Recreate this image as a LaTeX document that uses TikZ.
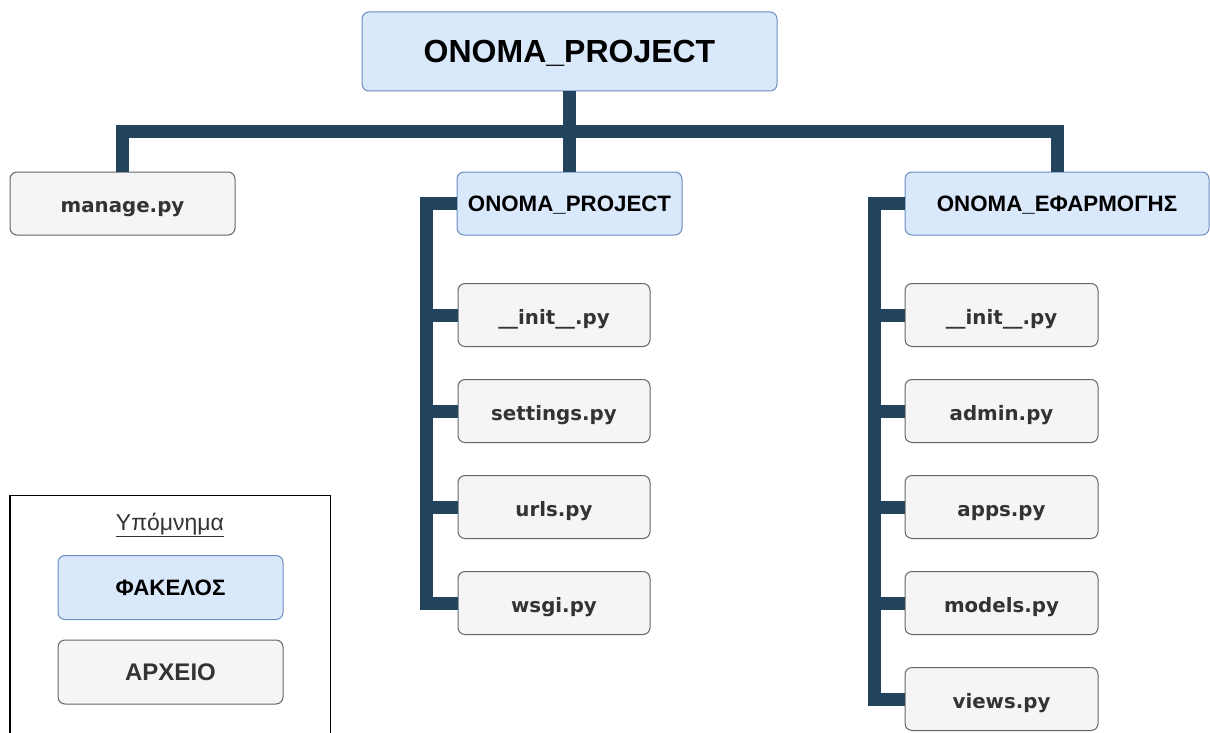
\documentclass[tikz,border=0pt]{standalone}
\usepackage{fontspec}
\setmainfont{Liberation Sans}
\newfontfamily\headfont{Liberation Sans}
\newfontfamily\filefont{DejaVu Sans}
\definecolor{folderfill}{HTML}{DAE8FC}
\definecolor{folderline}{HTML}{6C8EBF}
\definecolor{filefill}{HTML}{F5F5F5}
\definecolor{fileline}{HTML}{666666}
\definecolor{filetext}{HTML}{333333}
\definecolor{trunkcol}{HTML}{23445D}
\begin{document}
\begin{tikzpicture}[x=1pt,y=-1pt,
  folderbox/.style={draw=folderline, fill=folderfill, line width=1pt, rounded corners=7pt,
    inner sep=0pt, text height=16pt, text depth=0pt,
    font=\headfont\bfseries\fontsize{22.3}{26}\selectfont, text=black},
  filebox/.style={draw=fileline, fill=filefill, line width=1pt, rounded corners=7pt,
    inner sep=0pt, minimum height=63pt, text height=18pt, text depth=0pt,
    font=\filefont\bfseries\fontsize{19.8}{24}\selectfont, text=filetext},
  trunk/.style={draw=trunkcol, line width=13pt, line join=miter}]
\useasboundingbox (0,0) rectangle (1210,733);

% root folder
\node[folderbox, minimum width=415pt, minimum height=79pt, text height=23pt,
  font=\headfont\bfseries\fontsize{32}{36}\selectfont] (root) at (569.5,51.5) {ONOMA\_PROJECT};

% first level
\node[filebox, minimum width=225pt] (manage) at (122.5,203.5) {manage.py};
\node[folderbox, minimum width=225pt, minimum height=63pt] (proj) at (569.5,203.5) {ONOMA\_PROJECT};
\node[folderbox, minimum width=304pt, minimum height=63pt] (app) at (1057,203.5) {ONOMA\_ΕΦΑΡΜΟΓΗΣ};

% files of the project folder
\node[filebox, minimum width=192pt] (pinit) at (554,315) {\_\_init\_\_.py};
\node[filebox, minimum width=192pt] (psettings) at (554,411) {settings.py};
\node[filebox, minimum width=192pt] (purls) at (554,507) {urls.py};
\node[filebox, minimum width=192pt] (pwsgi) at (554,603) {wsgi.py};

% files of the application folder
\node[filebox, minimum width=193pt] (ainit) at (1001.5,315) {\_\_init\_\_.py};
\node[filebox, minimum width=193pt] (aadmin) at (1001.5,411) {admin.py};
\node[filebox, minimum width=193pt] (aapps) at (1001.5,507) {apps.py};
\node[filebox, minimum width=193pt] (amodels) at (1001.5,603) {models.py};
\node[filebox, minimum width=193pt] (aviews) at (1001.5,699) {views.py};

% tree connectors
\coordinate (bus) at (0,131.5);
\coordinate (pcol) at (426.5,0);
\coordinate (acol) at (874.5,0);
\draw[trunk] (root.south) -- (proj.north);
\draw[trunk] (manage.north) |- (app.north |- bus) -- (app.north);
\draw[trunk] (proj.west) -| (pcol |- pwsgi.west) -- (pwsgi.west);
\foreach \n in {pinit,psettings,purls}
  \draw[trunk] (pcol |- \n.west) -- (\n.west);
\draw[trunk] (app.west) -| (acol |- aviews.west) -- (aviews.west);
\foreach \n in {ainit,aadmin,aapps,amodels}
  \draw[trunk] (acol |- \n.west) -- (\n.west);

% legend
\draw[line width=1.3pt] (10,740) -- (10,495.5) -- (330.5,495.5) -- (330.5,740);
\node[anchor=base, inner sep=0pt, text=filetext, font=\fontsize{23}{26}\selectfont]
  (legtitle) at (170,530) {\underline{Υπόμνημα}};
\node[folderbox, minimum width=225pt, minimum height=64pt] (legfolder) at (170.5,587.5) {ΦΑΚΕΛΟΣ};
\node[filebox, minimum width=225pt, minimum height=64pt, text height=17.3pt,
  font=\headfont\bfseries\fontsize{24}{28}\selectfont] (legfile) at (170.5,672) {ΑΡΧΕΙΟ};
\end{tikzpicture}
\end{document}
